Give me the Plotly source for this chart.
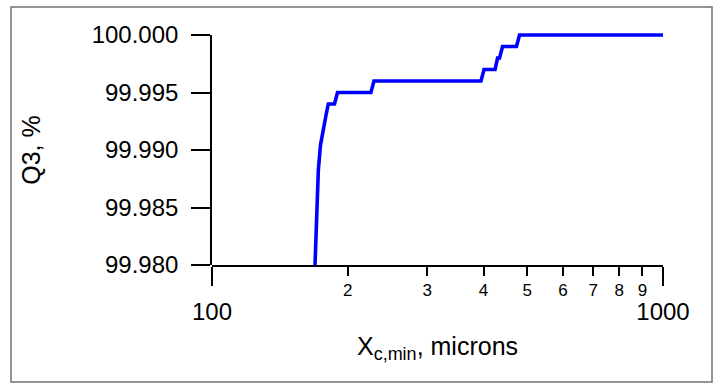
import plotly.graph_objects as go

# Data (X in microns, Q3 in %)
x_microns = [169.2, 170.5, 172.1, 174.0, 176.5, 179.0, 181.1, 186.9, 189.8, 225.1,
             228.6, 394.9, 401.0, 424.3, 429.7, 434.1, 440.8, 473.3, 480.6, 1000.0]
q3_percent = [99.9800, 99.98435, 99.98826, 99.99043, 99.99191, 99.99304, 99.9940, 99.9940,
              99.9950, 99.9950, 99.9960, 99.9960, 99.9970, 99.9970, 99.9980, 99.9980,
              99.9990, 99.9990, 100.0000, 100.0000]

y_ticks = [99.980, 99.985, 99.990, 99.995, 100.000]
x_major_ticks = [100, 1000]
x_major_labels = ["100", "1000"]
x_minor_ticks = [200, 300, 400, 500, 600, 700, 800, 900]
x_minor_labels = ["2", "3", "4", "5", "6", "7", "8", "9"]

FONT = "Liberation Sans, Arial, sans-serif"
W, H = 720, 386
L, R, T, B = 212, 57, 31, 121
pw, ph = W - L - R, H - T - B
PAD_TOP = 4  # px of headroom so the line at 100.000 is not clipped
y_lo, y_hi = y_ticks[0], y_ticks[-1]
y_span = y_hi - y_lo
y_hi_ext = y_hi + y_span * PAD_TOP / (ph - PAD_TOP)

fig = go.Figure()
fig.add_trace(go.Scatter(x=x_microns, y=q3_percent, mode="lines",
                         line=dict(color="#0000FF", width=3.6),
                         showlegend=False, hoverinfo="skip"))
# invisible helper traces so the label axes get drawn
fig.add_trace(go.Scatter(x=[100, 1000], y=[y_lo, y_lo], xaxis="x2", mode="lines",
                         line=dict(width=0), showlegend=False, hoverinfo="skip"))
fig.add_trace(go.Scatter(x=[100, 1000], y=[y_lo, y_lo], yaxis="y2", mode="lines",
                         line=dict(width=0), showlegend=False, hoverinfo="skip"))

axis_common = dict(showgrid=False, zeroline=False, ticks="outside",
                   tickcolor="black", tickwidth=1.6)

fig.update_layout(
    width=W, height=H,
    margin=dict(l=L, r=R, t=T, b=B, pad=0),
    paper_bgcolor="white", plot_bgcolor="rgba(0,0,0,0)",
    font=dict(family=FONT, color="black"),
    xaxis=dict(type="log", range=[2, 3], tickvals=x_major_ticks, ticktext=x_major_labels,
               ticklen=19, tickfont=dict(size=24), showline=True, linecolor="black",
               linewidth=1.6, ticklabelstandoff=5,
               title=dict(text="X<sub><span style='font-size:18px'>c,min</span></sub>, microns",
                          font=dict(size=25), standoff=14),
               **axis_common),
    xaxis2=dict(type="log", range=[2, 3], overlaying="x", anchor="y", side="bottom",
                tickvals=x_minor_ticks, ticktext=x_minor_labels, ticklen=10,
                tickfont=dict(size=17), showline=False, ticklabelstandoff=0,
                **axis_common),
    yaxis=dict(range=[y_lo, y_hi_ext], visible=False, showgrid=False, zeroline=False),
    yaxis2=dict(anchor="x", domain=[0, (ph - PAD_TOP) / ph], range=[y_lo, y_hi],
                tickvals=y_ticks, tickformat=".3f", ticklen=19,
                tickfont=dict(size=24), showline=True, linecolor="black", linewidth=1.6,
                ticklabelstandoff=8,
                title=dict(text="Q3, %", font=dict(size=25), standoff=44),
                **axis_common),
    shapes=[dict(type="rect", xref="paper", yref="paper",
                 x0=(11 - L) / pw, x1=(712 - L) / pw,
                 y0=(H - B - 382) / ph, y1=(H - B - 7) / ph,
                 line=dict(color="#707070", width=1.5), fillcolor="rgba(0,0,0,0)",
                 layer="below")],
)

fig.write_html("out.html")
